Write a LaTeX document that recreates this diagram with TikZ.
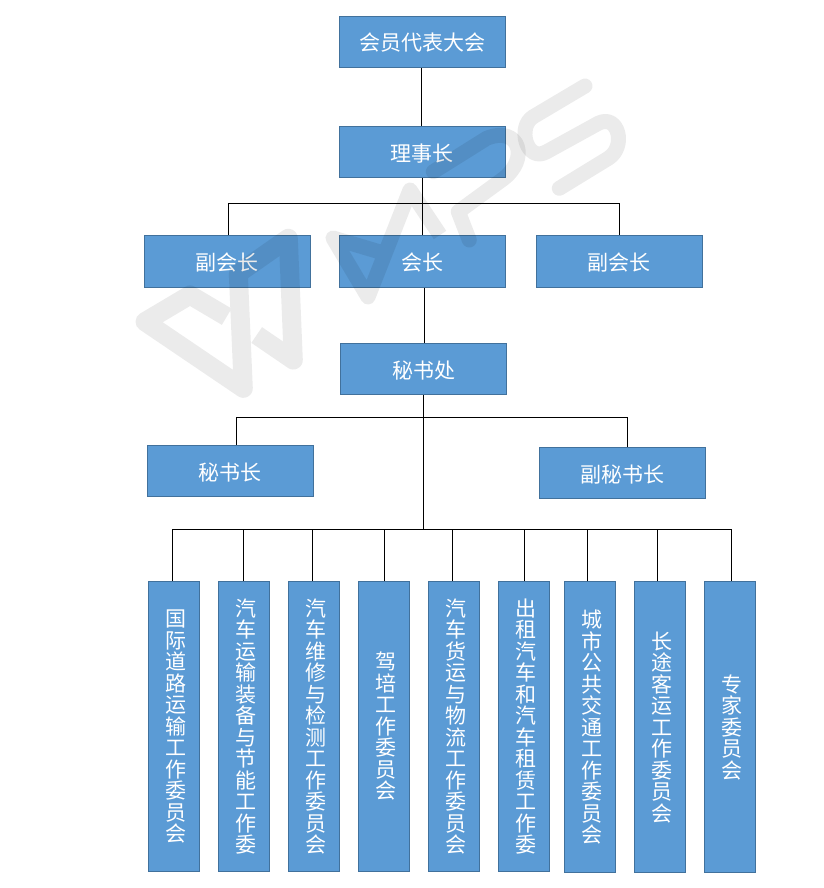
\documentclass[tikz,border=0pt]{standalone}
\usepackage{fontspec}
\setmainfont{Noto Sans CJK SC}
\usepackage{xcolor}
\usetikzlibrary{positioning}
\XeTeXlinebreaklocale "zh"
\definecolor{boxfill}{HTML}{5B9BD5}
\definecolor{boxline}{HTML}{41719C}

\begin{document}
\begin{tikzpicture}[x=1pt, y=-1pt, on grid]
        \tikzstyle{box}=[
            draw=boxline,
            fill=boxfill,
            line width=0.9pt,
            text=white,
            inner sep=0pt,
            font=\fontsize{21}{21.5}\selectfont
        ]
        \tikzstyle{wide}=[box, minimum width=166pt, minimum height=51.6pt, text height=20.5pt, text depth=2.5pt]
        \tikzstyle{tall}=[box, minimum width=51.6pt, minimum height=290.8pt, text width=25pt, align=right]
        \tikzstyle{conn}=[line width=1pt, black]
        \tikzstyle{wmark}=[black, opacity=0.08, line join=round]

        \useasboundingbox (0,0) rectangle (823,888);

        \node[wide] (daibiao) at (422.3,42) {会员代表大会};
        \node[wide] (lishi) [below=110pt of daibiao] {理事长};
        \node[wide] (huizhang) [below=109.5pt of lishi] {会长};
        \node[wide] (fuhuil) [left=195pt of huizhang] {副会长};
        \node[wide] (fuhuir) [right=197pt of huizhang] {副会长};
        \node[wide] (mishuchu) [below=107.5pt of huizhang, xshift=1.2pt] {秘书处};
        \node[wide] (mishuzhang) [below=102pt of mishuchu, xshift=-193.5pt] {秘书长};
        \node[wide] (fumishu) [below=104pt of mishuchu, xshift=198.5pt] {副秘书长};

        \node[tall] (cola) [below=357.5pt of mishuchu, xshift=-249.5pt] {国际道路运输工作委员会};
        \node[tall] (colb) [right=70pt of cola] {汽车运输装备与节能工作委};
        \node[tall] (colc) [right=70pt of colb] {汽车维修与检测工作委员会};
        \node[tall] (cold) [right=70pt of colc] {驾培工作委员会};
        \node[tall] (cole) [right=70pt of cold] {汽车货运与物流工作委员会};
        \node[tall] (colf) [right=70pt of cole] {出租汽车和汽车租赁工作委};
        \node[tall] (colg) [right=66pt of colf, yshift=-0.75pt] {城市公共交通工作委员会};
        \node[tall] (colh) [right=70pt of colg] {长途客运工作委员会};
        \node[tall] (coli) [right=70pt of colh] {专家委员会};

        \coordinate (bara) at (422.5,203.5);
        \coordinate (barb) at (423.5,417.5);
        \coordinate (barc) at (423.5,529.5);

        \draw[conn] ([xshift=-0.8pt]daibiao.south) -- ([xshift=-0.8pt]lishi.north);
        \draw[conn] (lishi.south -| bara) -- (bara) -- (huizhang.north -| bara);
        \draw[conn] ([xshift=1.2pt]fuhuil.north) |- (bara) -| ([xshift=0.2pt]fuhuir.north);
        \draw[conn] ([xshift=2.2pt]huizhang.south) -- ([xshift=1pt]mishuchu.north);
        \draw[conn] (mishuchu) -- (barc);
        \draw[conn] ([xshift=6.5pt]mishuzhang.north) |- (barb) -| ([xshift=5.5pt]fumishu.north);
        \draw[conn] ([xshift=-1.5pt]cola.north) |- (barc) -| ([xshift=1.5pt]coli.north);
        \foreach \c/\dx in {colb/-0.5, colc/-1.5, cold/0.5, cole/-1.5, colf/0.5, colg/-2.5, colh/-2.5}
            \draw[conn] ([xshift=\dx pt]\c.north) -- ([xshift=\dx pt]\c.north |- barc);

        % watermark
        \draw[wmark, line width=19pt] (226.7,316.7) -- (190,295) -- (145,321.7) -- (243.3,388.3) -- (238.3,273.3) -- (288.3,238.3) -- (293.3,360) -- (256.7,335);
        \draw[wmark, line width=15pt] (380,252) -- (333,238) -- (368,297) -- (410,190) -- (440,235);
        \draw[wmark, line width=15pt, line cap=round] (469.3,240) -- (458.3,211.7) -- (501.7,180) .. controls (530,160) and (520,125) .. (486.7,138.3) -- (433.3,171.7);
        \draw[wmark, line width=15pt, line cap=round] (585,86) -- (533.3,116.7) .. controls (516.7,126.7) and (526.7,163.3) .. (546.7,151.7) -- (598.3,123.3) .. controls (618.3,113.3) and (626.7,146.7) .. (608.3,158.3) -- (559.3,188.3);
\end{tikzpicture}
\end{document}
